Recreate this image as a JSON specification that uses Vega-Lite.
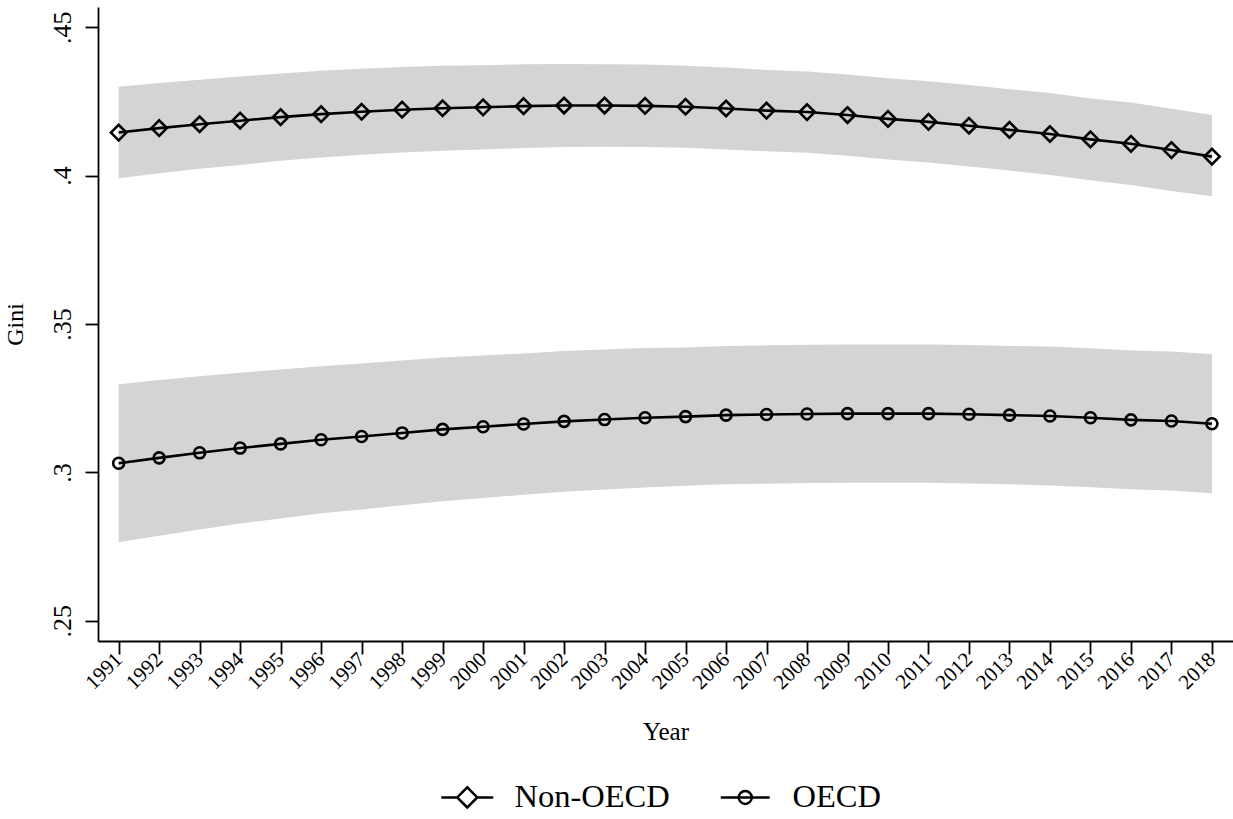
{
  "$schema": "https://vega.github.io/schema/vega-lite/v6.json",
  "width": 1135,
  "height": 634,
  "autosize": {"type": "none"},
  "padding": {"left": 98, "top": 7, "right": 0, "bottom": 178},
  "background": "white",
  "config": {
    "view": {"stroke": null},
    "font": "Liberation Serif",
    "axis": {
      "grid": false,
      "domainColor": "black",
      "domainWidth": 1.8,
      "tickColor": "black",
      "tickWidth": 1.8,
      "tickSize": 13,
      "labelColor": "black",
      "titleColor": "black",
      "titleFontWeight": "normal",
      "labelFont": "Liberation Serif",
      "titleFont": "Liberation Serif"
    },
    "legend": {"labelFont": "Liberation Serif"}
  },
  "data": {
    "values": [
      {"year": 1991, "series": "Non-OECD", "gini": 0.4145, "lo": 0.3991, "hi": 0.4299},
      {"year": 1992, "series": "Non-OECD", "gini": 0.4160, "lo": 0.4008, "hi": 0.4312},
      {"year": 1993, "series": "Non-OECD", "gini": 0.4173, "lo": 0.4023, "hi": 0.4323},
      {"year": 1994, "series": "Non-OECD", "gini": 0.4185, "lo": 0.4036, "hi": 0.4334},
      {"year": 1995, "series": "Non-OECD", "gini": 0.4197, "lo": 0.4050, "hi": 0.4344},
      {"year": 1996, "series": "Non-OECD", "gini": 0.4207, "lo": 0.4061, "hi": 0.4353},
      {"year": 1997, "series": "Non-OECD", "gini": 0.4215, "lo": 0.4070, "hi": 0.4360},
      {"year": 1998, "series": "Non-OECD", "gini": 0.4222, "lo": 0.4078, "hi": 0.4366},
      {"year": 1999, "series": "Non-OECD", "gini": 0.4227, "lo": 0.4084, "hi": 0.4370},
      {"year": 2000, "series": "Non-OECD", "gini": 0.4230, "lo": 0.4088, "hi": 0.4372},
      {"year": 2001, "series": "Non-OECD", "gini": 0.4234, "lo": 0.4093, "hi": 0.4375},
      {"year": 2002, "series": "Non-OECD", "gini": 0.4236, "lo": 0.4096, "hi": 0.4376},
      {"year": 2003, "series": "Non-OECD", "gini": 0.4236, "lo": 0.4097, "hi": 0.4375},
      {"year": 2004, "series": "Non-OECD", "gini": 0.4235, "lo": 0.4096, "hi": 0.4374},
      {"year": 2005, "series": "Non-OECD", "gini": 0.4232, "lo": 0.4094, "hi": 0.4370},
      {"year": 2006, "series": "Non-OECD", "gini": 0.4226, "lo": 0.4088, "hi": 0.4364},
      {"year": 2007, "series": "Non-OECD", "gini": 0.4219, "lo": 0.4082, "hi": 0.4356},
      {"year": 2008, "series": "Non-OECD", "gini": 0.4214, "lo": 0.4077, "hi": 0.4351},
      {"year": 2009, "series": "Non-OECD", "gini": 0.4204, "lo": 0.4067, "hi": 0.4341},
      {"year": 2010, "series": "Non-OECD", "gini": 0.4191, "lo": 0.4054, "hi": 0.4328},
      {"year": 2011, "series": "Non-OECD", "gini": 0.4181, "lo": 0.4044, "hi": 0.4318},
      {"year": 2012, "series": "Non-OECD", "gini": 0.4168, "lo": 0.4031, "hi": 0.4305},
      {"year": 2013, "series": "Non-OECD", "gini": 0.4154, "lo": 0.4017, "hi": 0.4291},
      {"year": 2014, "series": "Non-OECD", "gini": 0.4140, "lo": 0.4002, "hi": 0.4278},
      {"year": 2015, "series": "Non-OECD", "gini": 0.4122, "lo": 0.3984, "hi": 0.4260},
      {"year": 2016, "series": "Non-OECD", "gini": 0.4107, "lo": 0.3968, "hi": 0.4246},
      {"year": 2017, "series": "Non-OECD", "gini": 0.4086, "lo": 0.3948, "hi": 0.4225},
      {"year": 2018, "series": "Non-OECD", "gini": 0.4064, "lo": 0.3930, "hi": 0.4204},
      {"year": 1991, "series": "OECD", "gini": 0.3031, "lo": 0.2765, "hi": 0.3297},
      {"year": 1992, "series": "OECD", "gini": 0.3049, "lo": 0.2787, "hi": 0.3311},
      {"year": 1993, "series": "OECD", "gini": 0.3066, "lo": 0.2808, "hi": 0.3324},
      {"year": 1994, "series": "OECD", "gini": 0.3082, "lo": 0.2828, "hi": 0.3336},
      {"year": 1995, "series": "OECD", "gini": 0.3096, "lo": 0.2845, "hi": 0.3347},
      {"year": 1996, "series": "OECD", "gini": 0.3110, "lo": 0.2862, "hi": 0.3358},
      {"year": 1997, "series": "OECD", "gini": 0.3121, "lo": 0.2875, "hi": 0.3367},
      {"year": 1998, "series": "OECD", "gini": 0.3133, "lo": 0.2889, "hi": 0.3377},
      {"year": 1999, "series": "OECD", "gini": 0.3145, "lo": 0.2903, "hi": 0.3387},
      {"year": 2000, "series": "OECD", "gini": 0.3154, "lo": 0.2914, "hi": 0.3394},
      {"year": 2001, "series": "OECD", "gini": 0.3163, "lo": 0.2925, "hi": 0.3401},
      {"year": 2002, "series": "OECD", "gini": 0.3172, "lo": 0.2935, "hi": 0.3409},
      {"year": 2003, "series": "OECD", "gini": 0.3178, "lo": 0.2942, "hi": 0.3414},
      {"year": 2004, "series": "OECD", "gini": 0.3184, "lo": 0.2949, "hi": 0.3419},
      {"year": 2005, "series": "OECD", "gini": 0.3188, "lo": 0.2955, "hi": 0.3421},
      {"year": 2006, "series": "OECD", "gini": 0.3193, "lo": 0.2960, "hi": 0.3426},
      {"year": 2007, "series": "OECD", "gini": 0.3195, "lo": 0.2962, "hi": 0.3428},
      {"year": 2008, "series": "OECD", "gini": 0.3197, "lo": 0.2964, "hi": 0.3430},
      {"year": 2009, "series": "OECD", "gini": 0.3198, "lo": 0.2965, "hi": 0.3431},
      {"year": 2010, "series": "OECD", "gini": 0.3198, "lo": 0.2965, "hi": 0.3431},
      {"year": 2011, "series": "OECD", "gini": 0.3198, "lo": 0.2965, "hi": 0.3431},
      {"year": 2012, "series": "OECD", "gini": 0.3196, "lo": 0.2963, "hi": 0.3429},
      {"year": 2013, "series": "OECD", "gini": 0.3193, "lo": 0.2960, "hi": 0.3426},
      {"year": 2014, "series": "OECD", "gini": 0.3190, "lo": 0.2956, "hi": 0.3424},
      {"year": 2015, "series": "OECD", "gini": 0.3184, "lo": 0.2950, "hi": 0.3418},
      {"year": 2016, "series": "OECD", "gini": 0.3177, "lo": 0.2943, "hi": 0.3411},
      {"year": 2017, "series": "OECD", "gini": 0.3173, "lo": 0.2939, "hi": 0.3407},
      {"year": 2018, "series": "OECD", "gini": 0.3164, "lo": 0.2930, "hi": 0.3398}
    ]
  },
  "encoding": {
    "x": {
      "field": "year",
      "type": "quantitative",
      "scale": {"domain": [1990.49, 2018.52], "nice": false, "zero": false},
      "axis": {
        "title": "Year",
        "values": [1991, 1992, 1993, 1994, 1995, 1996, 1997, 1998, 1999, 2000, 2001, 2002, 2003, 2004, 2005, 2006, 2007, 2008, 2009, 2010, 2011, 2012, 2013, 2014, 2015, 2016, 2017, 2018],
        "format": "d",
        "labelAngle": -45,
        "labelAlign": "right",
        "labelBaseline": "middle",
        "labelFontSize": 21,
        "labelPadding": 2,
        "labelOverlap": false,
        "titleFontSize": 25,
        "titlePadding": 27
      }
    },
    "y": {
      "field": "gini",
      "type": "quantitative",
      "scale": {"domain": [0.2432, 0.4568], "nice": false, "zero": false},
      "axis": {
        "title": "Gini",
        "values": [0.25, 0.3, 0.35, 0.4, 0.45],
        "labelExpr": "substring(format(datum.value, '.2~f'), 1)",
        "labelAngle": -90,
        "labelAlign": "center",
        "labelBaseline": "alphabetic",
        "labelFontSize": 26,
        "labelPadding": 15,
        "titleFontSize": 24,
        "titlePadding": 22
      }
    }
  },
  "layer": [
    {
      "mark": {"type": "area", "color": "#d4d4d4", "opacity": 1},
      "encoding": {
        "y": {
          "field": "lo",
          "type": "quantitative",
          "scale": {"domain": [0.2432, 0.4568], "nice": false, "zero": false},
          "axis": {
            "title": "Gini",
            "values": [0.25, 0.3, 0.35, 0.4, 0.45],
            "labelExpr": "substring(format(datum.value, '.2~f'), 1)",
            "labelAngle": -90,
            "labelAlign": "center",
            "labelBaseline": "alphabetic",
            "labelFontSize": 26,
            "labelPadding": 15,
            "titleFontSize": 24,
            "titlePadding": 22
          }
        },
        "y2": {"field": "hi"},
        "detail": {"field": "series"}
      }
    },
    {
      "mark": {"type": "line", "strokeWidth": 2.6},
      "encoding": {
        "color": {
          "field": "series",
          "type": "nominal",
          "scale": {"domain": ["Non-OECD", "OECD"], "range": ["black", "black"]},
          "legend": {
            "title": null,
            "orient": "none",
            "direction": "horizontal",
            "legendX": 353,
            "legendY": 774,
            "symbolSize": 400,
            "symbolStrokeWidth": 2.5,
            "symbolStrokeColor": "black",
            "symbolFillColor": "transparent",
            "labelFontSize": 32.5,
            "labelColor": "black",
            "labelOffset": 31,
            "columnPadding": 45,
            "encode": {
              "symbols": {
                "update": {
                  "shape": {"signal": "datum.value === 'OECD' ? 'M-2.45,0L2.45,0M-0.65,0A0.65,0.65,0,1,0,0.65,0A0.65,0.65,0,1,0,-0.65,0Z' : 'M-2.6,0L-1,0M1,0L2.6,0M-1,0L0,-1L1,0L0,1Z'"},
                  "fill": {"value": "transparent"},
                  "stroke": {"value": "black"},
                  "strokeWidth": {"value": 2.5}
                }
              }
            }
          }
        }
      }
    },
    {
      "transform": [{"filter": "datum.series === 'Non-OECD'"}],
      "mark": {"type": "point", "shape": "diamond", "size": 240, "filled": false, "stroke": "black", "strokeWidth": 2.6, "opacity": 1}
    },
    {
      "transform": [{"filter": "datum.series === 'OECD'"}],
      "mark": {"type": "point", "shape": "circle", "size": 121, "filled": false, "stroke": "black", "strokeWidth": 2.6, "opacity": 1}
    }
  ]
}
